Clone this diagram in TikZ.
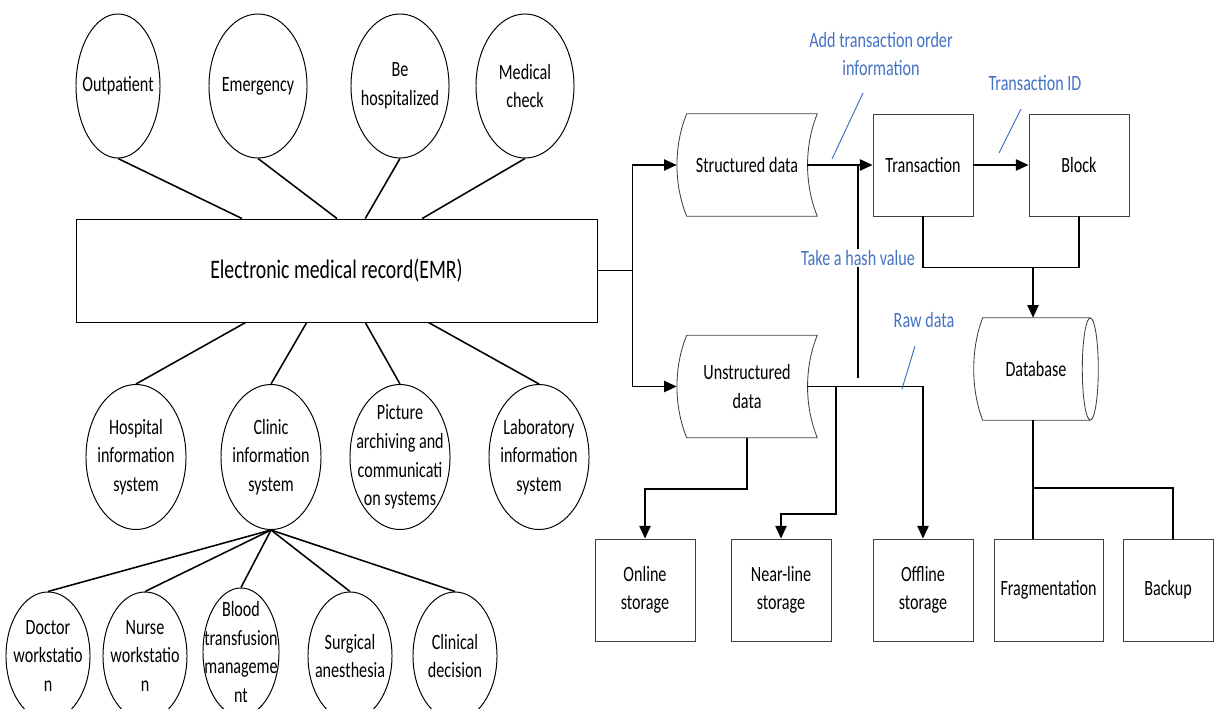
\documentclass[tikz,border=0pt]{standalone}
\usepackage{fontspec}
\setmainfont{Carlito}
\newfontfamily\narrowfont[FakeStretch=0.74]{Carlito}
\usetikzlibrary{shapes.geometric,arrows.meta,calc}
\definecolor{notecol}{HTML}{4472C4}
\definecolor{edgecol}{HTML}{404040}
\newcommand{\nodefont}{\narrowfont\fontsize{15.5}{20.3}\selectfont}

\begin{document}
\begin{tikzpicture}[x=0.025cm, y=-0.025cm,
  every node/.style={font=\nodefont},
  ell/.style={ellipse, draw, line width=0.7pt, inner sep=0pt, label={[align=center, inner sep=0pt]center:#1}},
  topell/.style={ell=#1, minimum width=2.45cm, minimum height=3.6cm},
  midell/.style={ell=#1, minimum width=2.5cm, minimum height=3.625cm},
  lowell/.style={ell=#1, minimum width=2.1cm, minimum height=3.2cm},
  box/.style={rectangle, draw=edgecol, line width=0.6pt, inner sep=2pt, align=center, minimum width=2.5cm, minimum height=2.55cm},
  datafree/.style={rectangle, inner sep=2pt, align=center, minimum width=3.5cm, minimum height=2.55cm},
  outline/.style={draw=edgecol, line width=0.6pt},
  link/.style={line width=1.1pt},
  arr/.style={link, -{Triangle[length=9pt, width=8pt]}},
  note/.style={text=notecol, align=center, inner sep=1pt},
  noteline/.style={draw=notecol, line width=0.7pt}]
\useasboundingbox (0,0) rectangle (1224,709);
\clip (0,0) rectangle (1224,709);

% left part: EMR and its sources
\node[topell={Outpatient}, minimum width=2.1cm] (outp) at (118,86) {};
\node[topell={Emergency}] (emer) at (258,86) {};
\node[topell={Be\\hospitalized}] (inpat) at (400,86) {};
\node[topell={Medical\\check}] (check) at (525,86) {};

\node[box, draw=black, minimum width=13.025cm, minimum height=2.575cm, font=\narrowfont\fontsize{19}{23}\selectfont] (emr) at (336.5,270.5) {Electronic medical record(EMR)};

\node[midell={Hospital\\information\\system}] (his) at (136,457) {};
\node[midell={Clinic\\information\\system}] (cis) at (271,457) {};
\node[midell={Picture\\archiving and\\communicati\\on systems}] (pacs) at (400,457) {};
\node[midell={Laboratory\\information\\system}] (lis) at (539,457) {};

\node[lowell={Doctor\\workstatio\\n}] (doc) at (48,656) {};
\node[lowell={Nurse\\workstatio\\n}] (nurse) at (145,656) {};
\node[lowell={Blood\\transfusion\\manageme\\nt}, minimum width=1.9cm] (blood) at (241,652) {};
\node[lowell={Surgical\\anesthesia}] (surg) at (350,656) {};
\node[lowell={Clinical\\decision}] (cdss) at (455,656) {};

\foreach \e/\f in {outp/0.319, emer/0.501, inpat/0.555, check/0.664}
  \draw[link] (\e.south) -- ($(emr.north west)!\f!(emr.north east)$);
\foreach \e/\f in {his/0.326, cis/0.443, pacs/0.555, lis/0.676}
  \draw[link] ($(emr.south west)!\f!(emr.south east)$) -- (\e.north);
\foreach \e in {doc,nurse,blood,surg,cdss}
  \draw[link] (cis.south) -- (\e.north);

% right part: data flow
\node[datafree] (sd) at (747,165) {Structured data};
\node[datafree] (ud) at (747,386.5) {Unstructured\\data};
\foreach \d in {sd,ud}
  \draw[outline] ([xshift=0.25cm]\d.north west) -- (\d.north east)
    .. controls ([shift={(-13,32)}]\d.north east) and ([shift={(-13,-32)}]\d.south east) .. (\d.south east)
    -- ([xshift=0.25cm]\d.south west)
    .. controls ([shift={(-3,-32)}]\d.south west) and ([shift={(-3,32)}]\d.north west) .. ([xshift=0.25cm]\d.north west) -- cycle;

\node[box] (tx) at (923,165) {Transaction};
\node[box] (blk) at (1079,165) {Block};

\node[rectangle, minimum width=3.1cm, minimum height=2.55cm] (db) at (1036,369) {Database};
\draw[outline] ([xshift=0.225cm]db.south west)
  .. controls ([shift={(-3,-31)}]db.south west) and ([shift={(-3,31)}]db.north west) .. ([xshift=0.225cm]db.north west)
  -- ([xshift=-0.2cm]db.north east)
  ([xshift=-0.2cm]db.south east) -- ([xshift=0.225cm]db.south west);
\draw[outline] ([xshift=-0.2cm]db.east) ellipse [x radius=0.2cm, y radius=1.275cm];

\node[box] (onl) at (645,590) {Online\\storage};
\node[box] (near) at (781,590) {Near-line\\storage};
\node[box] (off) at (923,590) {Offline\\storage};
\node[box, minimum width=2.725cm] (frag) at (1048.5,590) {Fragmentation};
\node[box, minimum width=2.25cm] (bak) at (1168,590) {Backup};

\draw[arr] (emr.east) -- ++(35,0) |- (sd.west);
\draw[arr] (emr.east) -- ++(35,0) |- (ud.west);
\draw[arr] ([xshift=-0.25cm]sd.east) -- (tx.west);
\draw[arr] (tx.east) -- (blk.west);

\coordinate (hashfrom) at (858,165);
\coordinate (hashto) at (858,378);
\draw[link] (hashfrom) -- (hashto);
\node[note, fill=white] (hashlbl) at (858,258) {Take a hash value};

\draw[link] (tx.south) -- ++(0,51) -| (blk.south);
\coordinate (dbin) at (1033,267);
\draw[arr] (dbin) -- (dbin |- db.north);

\coordinate (rawsplit) at (836,386.5);
\draw[arr] (ud.south) -- ++(0,51) -| (onl.north);
\draw[arr] ([xshift=-0.25cm]ud.east) -| (off.north);
\draw[arr] (rawsplit) -- ++(0,127.5) -| (near.north);

\coordinate (dbout) at (1033,488);
\draw[link] (db.south -| dbout) -- (dbout) -- (frag.north -| dbout);
\draw[link] (dbout) -| ([xshift=0.125cm]bak.north);

% annotations
\node[note] (ordlbl) at (881,54) {Add transaction order\\information};
\node[note] (idlbl) at (1035,83) {Transaction ID};
\node[note] (rawlbl) at (924,320) {Raw data};
\coordinate (ordtick) at (832,159);
\coordinate (idtick) at (999,153);
\coordinate (rawtick) at (902,389);
\draw[noteline] (ordtick) -- ++(31,-66);
\draw[noteline] (idtick) -- ++(22,-44);
\draw[noteline] (rawtick) -- ++(13,-43);

\end{tikzpicture}
\end{document}
